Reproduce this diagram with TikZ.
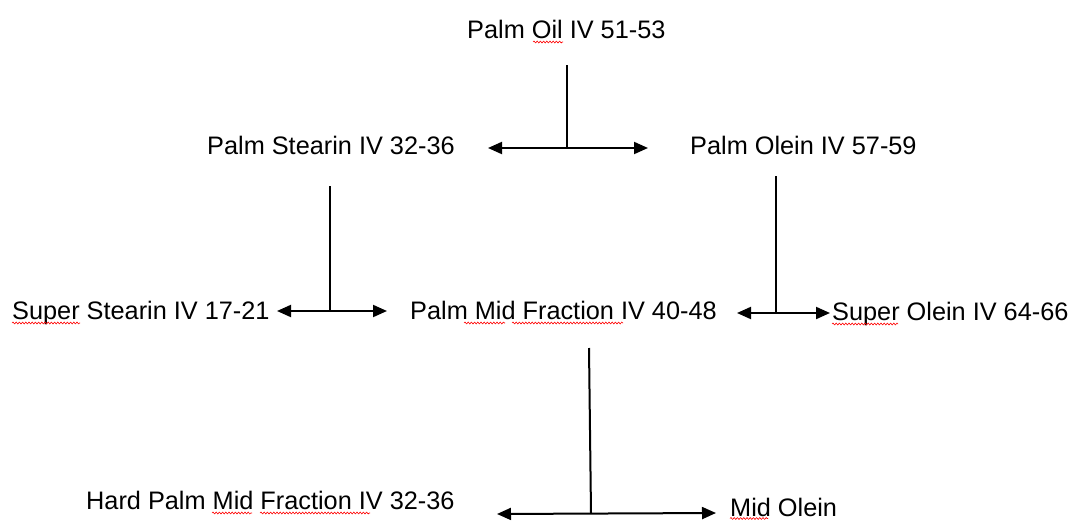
\documentclass[tikz,border=0pt]{standalone}
\usepackage{fontspec}
\setmainfont{Liberation Sans}
\usetikzlibrary{arrows.meta,decorations.pathmorphing}
\begin{document}
\begin{tikzpicture}[x=1pt,y=-1pt,
  lbl/.style={anchor=base west,inner sep=0pt,font=\fontsize{25.3}{30}\selectfont},
  stem/.style={line width=2pt},
  split/.style={line width=2pt,{Triangle[length=14pt,width=12pt]}-{Triangle[length=14pt,width=12pt]}},
  squig/.style={red,line width=0.6pt,decorate,decoration={snake,segment length=3.2pt,amplitude=0.9pt}}]
\useasboundingbox (0,0) rectangle (1072,520);
% labels
\node[lbl] (oil) at (467,38) {Palm Oil IV 51-53};
\node[lbl] (st) at (207,154) {Palm Stearin IV 32-36};
\node[lbl] (ol) at (690,154) {Palm Olein IV 57-59};
\node[lbl] (sst) at (12,319) {Super Stearin IV 17-21};
\node[lbl] (pmf) at (410,319) {Palm Mid Fraction IV 40-48};
\node[lbl] (sol) at (832,320) {Super Olein IV 64-66};
\node[lbl] (hpm) at (86,509) {Hard Palm Mid Fraction IV 32-36};
\node[lbl] (mol) at (730,516) {Mid Olein};
% junction coordinates
\coordinate (j1t) at (567,65);  \coordinate (j1) at (567,148);
\coordinate (a1l) at (488,148); \coordinate (a1r) at (648,148);
\coordinate (j2t) at (330,186); \coordinate (j2) at (330,311);
\coordinate (a2l) at (277,311); \coordinate (a2r) at (387,311);
\coordinate (j3t) at (776,176); \coordinate (j3) at (776,313);
\coordinate (a3l) at (737,313); \coordinate (a3r) at (830,313);
\coordinate (j4t) at (589,348); \coordinate (j4) at (591,513);
\coordinate (a4l) at (497,514); \coordinate (a4r) at (716,513);
% connectors
\draw[stem] (j1t) -- (j1);
\draw[split] (a1l) -- (a1r);
\draw[stem] (j2t) -- (j2);
\draw[split] (a2l) -- (a2r);
\draw[stem] (j3t) -- (j3);
\draw[split] (a3l) -- (a3r);
\draw[stem] (j4t) -- (j4);
\draw[split] (a4l) -- (a4r);
% spell-check squiggles
\draw[squig] (533,42) -- (563,42);
\draw[squig] (12,323) -- (80,323);
\draw[squig] (464,323) -- (505,323);
\draw[squig] (512,323) -- (623,323);
\draw[squig] (832,324) -- (898,324);
\draw[squig] (212,513) -- (252,513);
\draw[squig] (260,513) -- (370,513);
\draw[squig] (730,518.5) -- (768,518.5);
\end{tikzpicture}
\end{document}
